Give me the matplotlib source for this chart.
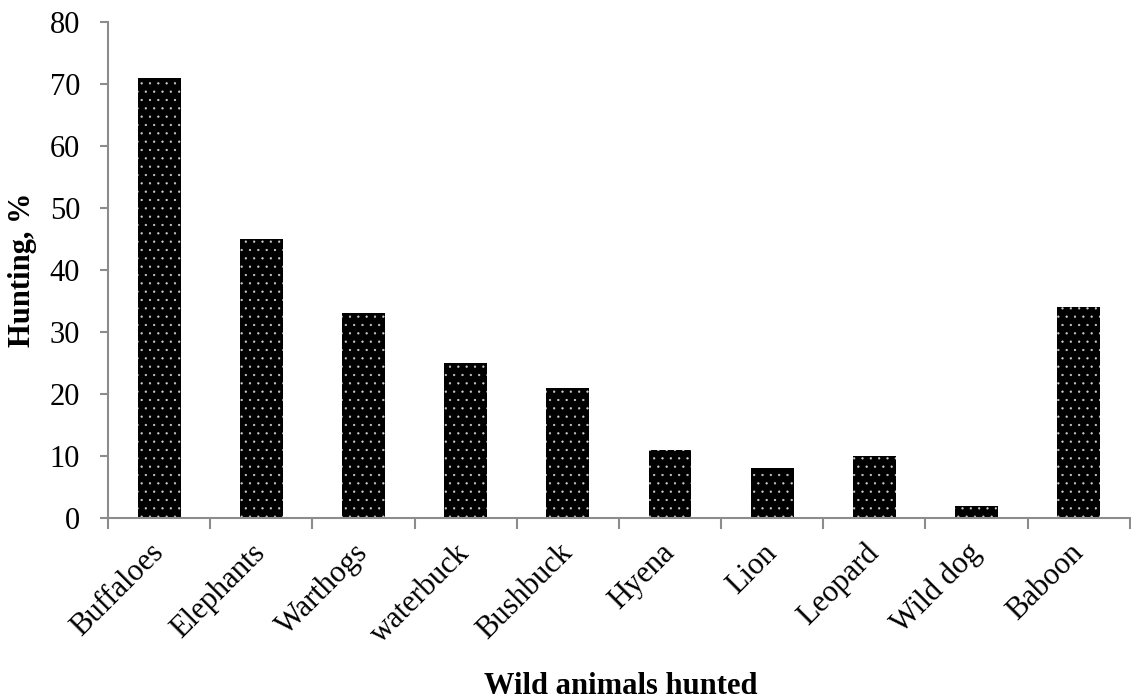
import matplotlib.pyplot as plt
import numpy as np

animals = ['Buffaloes', 'Elephants', 'Warthogs', 'waterbuck', 'Bushbuck',
           'Hyena', 'Lion', 'Leopard', 'Wild dog', 'Baboon']
hunting_pct = [71, 45, 33, 25, 21, 11, 8, 10, 2, 34]

plt.rcParams['font.family'] = ['Liberation Serif', 'DejaVu Serif']
plt.rcParams['hatch.linewidth'] = 0.4

fig = plt.figure(figsize=(11.31, 7), dpi=100)
ax = fig.add_axes([0.0955, 0.26, 0.9035, 0.7086])

x = np.arange(len(animals))
ax.bar(x, hunting_pct, width=0.42, color='black', edgecolor='#d0d0d0',
       linewidth=0, hatch='..')

ax.set_xlim(-0.5, len(animals) - 0.5)
ax.set_ylim(0, 80)
ax.set_yticks(range(0, 81, 10))
ax.set_xticks(x)
ax.set_xticklabels(animals, rotation=45, ha='right', va='center',
                   rotation_mode='anchor', fontsize=22)
ax.set_xticks(np.arange(-0.5, len(animals), 1), minor=True)
ax.tick_params(axis='x', which='major', length=0, pad=22)
ax.tick_params(axis='x', which='minor', length=8, width=1.5, color='#8c8c8c')
ax.tick_params(axis='y', length=6, width=1.5, color='#8c8c8c', labelsize=22, pad=14)

for s in ['top', 'right']:
    ax.spines[s].set_visible(False)
for s in ['left', 'bottom']:
    ax.spines[s].set_color('#8c8c8c')
    ax.spines[s].set_linewidth(1.5)

ax.set_ylabel('Hunting, %', fontsize=22, fontweight='bold')
ax.yaxis.set_label_coords(-0.0695, 0.5)
ax.set_xlabel('Wild animals hunted', fontsize=22, fontweight='bold')
ax.xaxis.set_label_coords(0.502, -0.31)

fig.savefig('out.png', dpi=100)
